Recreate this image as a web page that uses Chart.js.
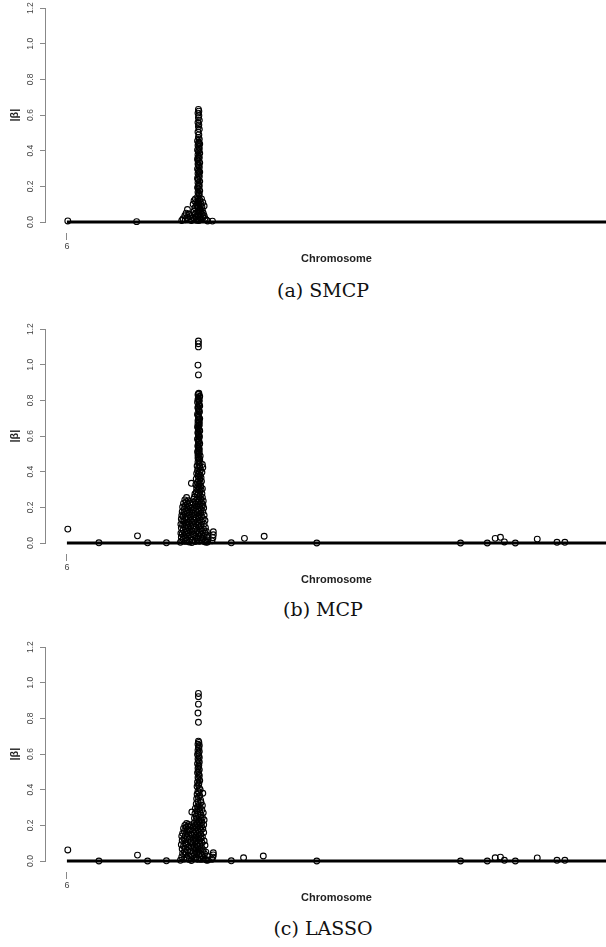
<!DOCTYPE html>
<html><head><meta charset="utf-8">
<script src="https://cdn.jsdelivr.net/npm/chart.js@4"></script>
<style>
html,body{margin:0;padding:0;background:#fff;}
body{width:606px;height:947px;overflow:hidden;position:relative;}
.panel{position:absolute;left:0;width:632px;height:266px;}
.cap{position:absolute;left:0;width:646px;text-align:center;font-family:"DejaVu Serif","Liberation Serif",serif;font-size:19px;line-height:20px;color:#111;}
</style></head><body>
<div class="panel" style="top:0px"><canvas id="c0" width="632" height="266"></canvas></div>
<div class="cap" style="top:280px">(a) SMCP</div>
<div class="panel" style="top:321px"><canvas id="c1" width="632" height="266"></canvas></div>
<div class="cap" style="top:599px">(b) MCP</div>
<div class="panel" style="top:639px"><canvas id="c2" width="632" height="266"></canvas></div>
<div class="cap" style="top:918px">(c) LASSO</div>
<script>
// ---- data (position along chromosome 6 in Mb, |beta|) ----
const chromosomeLabels = ['6'];
const chromosomeTickPos = [0];
const chromosomeSpan = [0, 128];
const yTickValues = [0, 0.2, 0.4, 0.6, 0.8, 1.0, 1.2];

const smcp = [
[0.2,0.006],[15.9,0.002],[33.2,0.005],
[30.0,0.632],[30.1,0.622],[29.9,0.611],[30.1,0.598],[30.0,0.585],[30.2,0.571],[29.9,0.558],[30.1,0.545],[30.0,0.534],[30.2,0.52],[29.9,0.505],[30.1,0.49],[30.0,0.475],[30.2,0.465],[29.8,0.455],[30.1,0.447],[30.3,0.438],[29.9,0.43],[30.1,0.421],[30.2,0.412],[29.8,0.404],[30.0,0.395],[30.3,0.386],[29.9,0.377],[30.1,0.368],[30.2,0.36],[29.8,0.351],[30.0,0.342],[30.3,0.333],[29.9,0.325],[30.1,0.316],[30.2,0.307],[29.8,0.298],[30.0,0.29],[30.3,0.281],[29.9,0.272],[30.1,0.263],[30.2,0.255],[29.8,0.246],[30.0,0.237],[30.3,0.228],[29.9,0.22],[30.1,0.211],[30.2,0.202],[29.8,0.193],[30.0,0.185],[30.3,0.176],[29.9,0.167],[30.1,0.158],[30.2,0.15],[29.8,0.141],[30.0,0.132],[30.3,0.124],[29.9,0.115],[30.1,0.106],[30.2,0.098],[29.8,0.089],[30.0,0.08],[30.3,0.072],[29.9,0.064],[30.1,0.056],[30.2,0.048],[29.9,0.04],[30.0,0.032],[30.3,0.024],[29.9,0.016],[30.1,0.008],
[30.0,0.44],[30.1,0.40],[29.9,0.36],[30.0,0.32],[30.1,0.28],[29.9,0.24],[30.0,0.20],[30.1,0.16],[29.9,0.12],
[29.4,0.11],[29.6,0.095],[29.2,0.08],[30.6,0.1],[30.8,0.085],[29.0,0.06],[29.3,0.045],[29.5,0.03],[29.1,0.02],[30.5,0.06],[30.7,0.045],[30.9,0.065],[31.1,0.05],[31.3,0.035],[31.0,0.025],[31.5,0.02],[31.8,0.012],[32.1,0.006],[30.6,0.015],[29.6,0.01],
[29.0,0.12],[29.3,0.13],[30.7,0.13],[31.0,0.11],[31.3,0.09],[28.8,0.1],
[27.5,0.07],[27.2,0.05],[27.8,0.045],[26.9,0.035],[27.4,0.025],[28.0,0.03],[28.3,0.02],[26.5,0.018],[26.2,0.008],[27.0,0.012],[28.6,0.04],[28.8,0.025],[28.4,0.008]
];

const mcp = [
[0.2,0.078],[7.3,0.001],[16.1,0.04],[18.4,0.001],[22.7,0.001],[33.4,0.063],[33.4,0.046],[33.3,0.03],[33.1,0.012],[37.5,0.001],[40.5,0.026],[45.0,0.038],[57.0,0.0],
[89.8,0.0],[95.9,0.0],[97.7,0.026],[98.9,0.032],[99.8,0.006],[102.3,0.0],[107.3,0.022],[111.8,0.004],[113.6,0.004],
[30.0,1.133],[30.0,1.118],[30.0,1.10],[29.9,0.998],[30.0,0.943],
[30.1,0.84],[29.9,0.832],[30.3,0.823],[30.0,0.812],[30.2,0.80],[29.8,0.79],[30.1,0.78],[30.3,0.768],[29.9,0.757],[30.1,0.745],[30.2,0.733],[29.8,0.722],[30.0,0.71],[30.3,0.698],[29.9,0.686],[30.1,0.675],[30.2,0.663],[29.8,0.651],[30.0,0.64],[30.3,0.628],[29.9,0.616],[30.1,0.605],[30.2,0.593],[29.8,0.582],[30.0,0.57],[30.3,0.558],[29.9,0.547],[30.1,0.535],[30.2,0.523],[29.8,0.512],[30.0,0.50],[30.4,0.488],[29.9,0.477],[30.1,0.465],
[30.0,0.836],[30.2,0.818],[29.9,0.806],[30.1,0.795],[30.2,0.774],[29.9,0.762],[30.0,0.751],[30.2,0.739],[29.9,0.716],[30.1,0.704],[30.0,0.692],[30.2,0.68],[29.9,0.669],[30.1,0.657],[30.0,0.645],[30.2,0.634],[29.9,0.622],[30.0,0.61],[30.2,0.599],[29.9,0.587],[30.1,0.576],[30.0,0.564],[30.2,0.552],[29.9,0.541],[30.1,0.529],[30.0,0.518],[30.2,0.506],[29.9,0.494],[30.0,0.482],[30.3,0.471],
[29.9,0.455],[30.4,0.452],[30.1,0.443],[30.9,0.44],[29.7,0.432],[30.3,0.428],[30.0,0.42],[31.0,0.424],[30.5,0.41],[29.8,0.407],[30.2,0.40],[30.8,0.397],[29.6,0.39],[30.0,0.387],[30.4,0.38],[29.9,0.376],[30.1,0.37],[30.6,0.366],[29.5,0.36],[30.3,0.357],[30.0,0.35],[30.7,0.346],[29.8,0.34],[30.4,0.337],[28.4,0.335],
[30.1,0.33],[29.4,0.327],[30.5,0.32],[29.9,0.317],[30.2,0.31],[29.6,0.307],[30.9,0.305],[29.9,0.30],[30.6,0.297],[30.3,0.29],[29.5,0.287],[30.0,0.28],[30.8,0.277],[29.2,0.275],[29.7,0.27],[30.4,0.267],[30.1,0.26],[29.1,0.258],[30.9,0.256],
[29.8,0.25],[30.5,0.248],[27.3,0.255],[28.9,0.246],
[30.2,0.24],[29.4,0.238],[31.1,0.236],[26.9,0.242],[27.7,0.237],
[29.9,0.23],[30.7,0.228],[28.7,0.226],[27.2,0.232],[28.1,0.224],
[30.4,0.22],[29.3,0.218],[31.0,0.216],[26.6,0.222],[27.5,0.219],
[30.0,0.21],[29.6,0.208],[30.9,0.206],[28.4,0.212],[27.0,0.209],[27.9,0.204],
[30.3,0.20],[29.1,0.198],[31.2,0.196],[26.4,0.202],[27.4,0.199],[28.2,0.195],
[29.8,0.19],[30.6,0.188],[28.8,0.186],[26.8,0.192],[27.7,0.187],
[30.1,0.18],[29.4,0.178],[31.0,0.176],[27.2,0.182],[28.0,0.177],[26.3,0.175],
[29.7,0.17],[30.5,0.168],[28.6,0.166],[26.7,0.172],[27.5,0.167],
[30.2,0.16],[29.2,0.158],[31.3,0.156],[27.0,0.162],[27.9,0.157],[26.2,0.155],
[29.9,0.15],[30.7,0.148],[28.9,0.146],[26.5,0.152],[27.4,0.147],[28.3,0.145],
[30.0,0.14],[29.5,0.138],[31.1,0.136],[26.9,0.142],[27.7,0.137],[26.1,0.135],
[30.4,0.13],[29.0,0.128],[31.5,0.126],[27.2,0.132],[28.1,0.127],[26.4,0.125],
[29.8,0.12],[30.8,0.118],[28.6,0.116],[26.7,0.122],[27.5,0.117],
[30.2,0.11],[29.3,0.108],[31.3,0.106],[27.0,0.112],[27.9,0.107],[26.0,0.105],
[29.9,0.10],[30.6,0.098],[28.8,0.096],[26.4,0.102],[27.3,0.097],[28.3,0.095],
[30.1,0.09],[29.5,0.088],[31.6,0.086],[26.8,0.092],[27.7,0.087],[26.1,0.085],
[30.4,0.08],[29.1,0.078],[31.2,0.076],[27.1,0.082],[28.0,0.077],
[29.7,0.07],[30.9,0.068],[28.6,0.066],[26.5,0.072],[27.5,0.067],[31.8,0.065],
[30.2,0.06],[29.4,0.058],[31.5,0.056],[26.9,0.062],[27.8,0.057],[26.0,0.055],
[29.9,0.05],[30.7,0.048],[28.9,0.046],[26.3,0.052],[27.3,0.047],[28.3,0.045],[32.0,0.044],
[30.0,0.04],[29.2,0.038],[31.3,0.036],[26.7,0.042],[27.6,0.037],[31.9,0.035],
[30.5,0.03],[29.6,0.028],[31.0,0.026],[26.1,0.032],[27.1,0.027],[28.1,0.025],[32.2,0.024],
[29.8,0.02],[30.8,0.018],[28.7,0.016],[26.5,0.022],[27.4,0.017],[31.6,0.015],
[30.2,0.01],[29.3,0.008],[31.4,0.007],[26.2,0.012],[27.0,0.009],[27.9,0.006],[32.1,0.005],
[25.9,0.004],[28.5,0.003],[31.8,0.004]
];

const lasso = [
[0.2,0.062],[16.1,0.033],[7.3,0.0],[18.4,0.0],[22.7,0.001],[33.4,0.046],[33.4,0.034],[33.3,0.022],[33.1,0.01],[37.5,0.001],[40.3,0.018],[44.8,0.028],[57.0,0.0],
[89.8,0.0],[95.9,0.0],[97.7,0.018],[98.9,0.022],[99.8,0.004],[102.3,0.0],[107.3,0.017],[111.8,0.004],[113.6,0.004],
[30.0,0.94],[30.0,0.922],[30.0,0.88],[29.9,0.83],[30.0,0.778],
[30.0,0.672],[30.1,0.665],[29.9,0.655],[30.2,0.648],[30.0,0.64],[30.1,0.632],[29.9,0.622],[30.2,0.615],[30.0,0.606],[29.8,0.598],[30.1,0.59],[30.2,0.58],[29.9,0.572],[30.0,0.563],[30.2,0.555],[29.8,0.546],[30.1,0.538],[30.0,0.529],[29.9,0.52],[30.2,0.512],[30.0,0.503],[29.8,0.495],[30.1,0.486],[30.2,0.478],[29.9,0.469],[30.0,0.46],[30.3,0.452],[29.8,0.443],[30.1,0.435],[30.0,0.426],[29.7,0.418],[30.2,0.409],[30.4,0.4],[29.9,0.392],[30.1,0.383],[31.0,0.38],[29.7,0.375],[30.3,0.366],[30.0,0.358],[29.6,0.349],[30.5,0.341],
[29.9,0.332],[30.6,0.328],[29.5,0.32],[30.2,0.316],[30.9,0.312],[29.8,0.305],[30.4,0.30],[29.3,0.295],[30.0,0.29],[30.8,0.287],[28.5,0.275],
[29.6,0.28],[30.3,0.276],[31.1,0.27],[29.2,0.265],[29.9,0.262],[30.6,0.258],[29.5,0.25],[30.2,0.247],[30.9,0.244],
[29.1,0.24],[29.8,0.236],[30.5,0.232],[31.3,0.23],[29.4,0.225],[30.1,0.222],[30.8,0.218],
[29.0,0.212],[29.7,0.21],[30.4,0.207],[27.3,0.21],[27.8,0.205],[31.2,0.204],
[29.3,0.2],[30.0,0.197],[30.7,0.194],[26.9,0.2],[27.6,0.196],[28.3,0.198],
[28.8,0.19],[29.6,0.187],[30.3,0.184],[31.0,0.181],[27.2,0.188],[26.6,0.183],
[29.1,0.178],[29.9,0.175],[30.6,0.172],[27.5,0.177],[28.1,0.174],
[28.7,0.168],[29.4,0.165],[30.2,0.162],[31.2,0.16],[26.8,0.167],[27.3,0.163],
[29.0,0.156],[29.8,0.153],[30.5,0.15],[26.4,0.155],[27.7,0.152],[28.3,0.149],
[28.6,0.144],[29.4,0.141],[30.1,0.138],[30.9,0.136],[27.0,0.143],[26.2,0.139],
[29.1,0.132],[29.8,0.129],[30.6,0.126],[27.4,0.131],[28.0,0.127],[26.7,0.125],
[28.8,0.12],[29.5,0.117],[30.3,0.114],[31.3,0.112],[27.1,0.119],[26.3,0.115],
[29.2,0.108],[30.0,0.105],[30.8,0.102],[27.6,0.107],[28.3,0.104],[26.9,0.1],
[28.6,0.096],[29.6,0.093],[30.4,0.09],[31.5,0.088],[27.2,0.095],[26.1,0.091],
[29.0,0.084],[29.9,0.081],[30.7,0.078],[26.6,0.083],[27.8,0.079],[28.4,0.077],
[28.7,0.072],[29.4,0.069],[30.2,0.066],[31.1,0.064],[27.0,0.071],[26.3,0.067],
[29.2,0.06],[30.0,0.057],[30.9,0.054],[27.5,0.059],[28.2,0.056],[26.8,0.052],[31.7,0.05],
[28.8,0.048],[29.7,0.045],[30.5,0.042],[31.4,0.04],[27.2,0.047],[26.4,0.043],
[29.1,0.036],[30.1,0.033],[30.8,0.03],[26.9,0.035],[27.7,0.031],[28.4,0.029],[32.0,0.028],
[28.6,0.024],[29.5,0.021],[30.3,0.019],[31.2,0.018],[26.2,0.023],[27.3,0.02],
[29.0,0.012],[29.8,0.01],[30.6,0.009],[31.6,0.008],[26.7,0.011],[27.9,0.009],[32.2,0.006],
[25.9,0.004],[28.4,0.003],[31.9,0.004]
];

// ---- drawing ----
Chart.defaults.font.family = '"Liberation Sans", Arial, Helvetica, sans-serif';
Chart.defaults.animation = false;

function makePanel(id, points) {
  new Chart(document.getElementById(id), {
    data: {
      datasets: [
        {
          type: 'line',
          data: [{x: chromosomeSpan[0], y: 0}, {x: chromosomeSpan[1], y: 0}],
          borderColor: '#000',
          borderWidth: 3,
          pointRadius: 0,
          clip: false,
          order: 0
        },
        {
          type: 'scatter',
          data: points.map(p => ({x: p[0], y: p[1]})),
          pointStyle: 'circle',
          pointRadius: 2.9,
          pointBorderWidth: 1.1,
          pointBorderColor: '#000',
          pointBackgroundColor: 'rgba(0,0,0,0)',
          pointHoverRadius: 2.9,
          clip: false,
          order: 1
        }
      ]
    },
    options: {
      responsive: false,
      animation: false,
      events: [],
      layout: {padding: {top: 6, right: 1, bottom: 0, left: 0}},
      plugins: {legend: {display: false}, tooltip: {enabled: false}},
      scales: {
        x: {
          type: 'linear',
          min: -5,
          max: 128,
          border: {display: false},
          grid: {
            display: true,
            drawOnChartArea: false,
            drawTicks: true,
            tickLength: 18,
            tickColor: '#888',
            tickWidth: 1,
            tickBorderDash: [0, 11, 7, 60]
          },
          afterBuildTicks: s => { s.ticks = chromosomeTickPos.map(v => ({value: v})); },
          afterFit: s => { s.height = 44; },
          ticks: {
            autoSkip: false,
            maxRotation: 0,
            padding: 1,
            font: {size: 9},
            color: '#444',
            callback: (v, i) => chromosomeLabels[i]
          },
          title: {
            display: true,
            text: 'Chromosome',
            font: {size: 11, weight: 'bold'},
            color: '#222',
            padding: {top: 0, bottom: 0}
          }
        },
        y: {
          type: 'linear',
          min: 0,
          max: 1.2,
          border: {display: true, color: '#888', width: 1},
          grid: {display: true, drawOnChartArea: false, drawTicks: true, tickLength: 5, tickColor: '#888'},
          afterBuildTicks: s => { s.ticks = yTickValues.map(v => ({value: v})); },
          afterFit: s => { s.width = 45; },
          ticks: {
            minRotation: 90,
            maxRotation: 90,
            crossAlign: 'center',
            padding: 3,
            font: {size: 8.5},
            color: '#444',
            callback: v => v.toFixed(1)
          },
          title: {
            display: true,
            text: '|β|',
            font: {size: 11, weight: 'bold'},
            color: '#222',
            padding: {top: 8, bottom: 0}
          }
        }
      }
    }
  });
}

makePanel('c0', smcp);
makePanel('c1', mcp);
makePanel('c2', lasso);
</script>
</body></html>
